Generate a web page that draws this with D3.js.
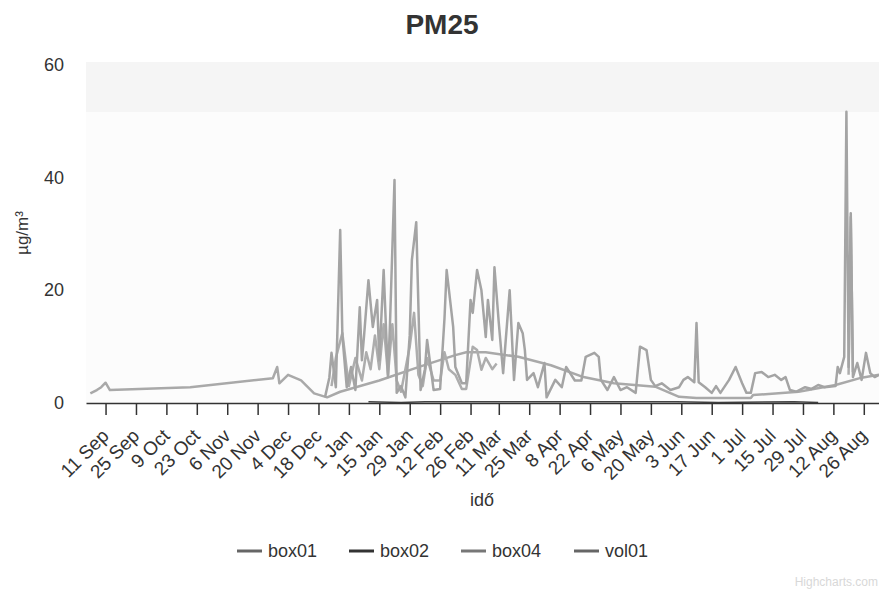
<!doctype html>
<html>
<head>
<meta charset="utf-8">
<title>PM25</title>
<script src="https://d3js.org/d3.v7.min.js"></script>
<style>
  body { margin:0; background:#fff; font-family:"Liberation Sans", Arial, sans-serif; }
</style>
</head>
<body>
<svg id="chart" width="879" height="589"></svg>
<script>
// series names and colours (scan is greyscale)
const seriesNames  = ["box01", "box02", "box04", "vol01"];
const legendColors = ["#666", "#333", "#777", "#666"];
const lineColors   = ["#a9a9a9", "#444", "#a4a4a4", "#adadad"];

// x tick positions as shown on the axis
const tickDays = ["2017-09-11","2017-09-25","2017-10-09","2017-10-23","2017-11-06","2017-11-20",
  "2017-12-04","2017-12-18","2018-01-01","2018-01-15","2018-01-29","2018-02-12","2018-02-26",
  "2018-03-11","2018-03-25","2018-04-08","2018-04-22","2018-05-06","2018-05-20","2018-06-03",
  "2018-06-17","2018-07-01","2018-07-15","2018-07-29","2018-08-12","2018-08-26"];
const yTicks = [0, 20, 40, 60];

// box01 : slow curve over the whole year
const box01 = [
  ["2017-09-04",1.7],["2017-09-07",2.3],["2017-09-09",2.8],["2017-09-11",3.6],["2017-09-13",2.3],
  ["2017-10-20",2.8],["2017-11-27",4.4],["2017-11-29",6.4],["2017-11-30",3.5],["2017-12-04",5.0],
  ["2017-12-10",4.0],["2017-12-16",1.7],["2017-12-22",1.0],["2017-12-28",2.0],["2018-01-15",4.0],
  ["2018-02-03",6.5],["2018-02-19",8.5],["2018-02-24",9.0],["2018-03-05",9.0],["2018-03-20",8.2],
  ["2018-04-04",6.7],["2018-04-19",4.6],["2018-05-03",3.5],["2018-05-22",2.9],["2018-06-02",1.1],
  ["2018-06-10",0.9],["2018-07-05",0.9],["2018-07-06",1.4],["2018-07-27",2.0],["2018-08-13",3.2],
  ["2018-08-25",4.5],["2018-09-02",5.0]
];

// box02 : close to zero
const box02 = [
  ["2018-01-10",0.2],["2018-01-25",0.1],["2018-02-05",0.2],["2018-06-01",0.2],["2018-06-20",0.1],
  ["2018-07-25",0.2],["2018-08-05",0.1]
];

// box04 : daily values
const box04 = [
  ["2017-12-21",1.0],["2017-12-23",4.5],["2017-12-24",8.9],["2017-12-26",2.8],["2017-12-28",30.7],
  ["2017-12-29",12.0],["2017-12-31",2.8],["2018-01-02",6.4],["2018-01-04",2.3],["2018-01-06",17.0],
  ["2018-01-07",7.6],["2018-01-08",12.0],["2018-01-10",21.8],["2018-01-12",13.5],["2018-01-14",18.3],
  ["2018-01-15",7.6],["2018-01-17",23.6],["2018-01-19",4.6],["2018-01-20",15.0],["2018-01-22",39.6],
  ["2018-01-23",1.8],["2018-01-25",3.0],["2018-01-27",1.0],["2018-01-29",12.0],["2018-01-30",25.4],
  ["2018-02-01",32.1],["2018-02-03",2.3],["2018-02-05",6.0],["2018-02-06",11.2],["2018-02-09",2.3],
  ["2018-02-12",2.5],["2018-02-14",15.0],["2018-02-15",23.6],["2018-02-18",13.5],["2018-02-19",6.4],
  ["2018-02-22",3.5],["2018-02-24",3.5],["2018-02-26",18.3],["2018-02-27",16.0],["2018-03-01",23.6],
  ["2018-03-03",20.0],["2018-03-05",11.7],["2018-03-06",18.3],["2018-03-08",11.2],["2018-03-09",24.1],
  ["2018-03-11",14.2],["2018-03-13",5.3],["2018-03-16",20.0],["2018-03-18",4.1],["2018-03-20",14.2],
  ["2018-03-22",12.4],["2018-03-23",9.4],["2018-03-24",4.1],["2018-03-27",5.3],["2018-03-29",2.8],
  ["2018-04-01",7.1],["2018-04-02",1.0],["2018-04-06",4.1],["2018-04-09",2.8],["2018-04-11",6.4],
  ["2018-04-15",4.0],["2018-04-18",4.0],["2018-04-20",8.2],["2018-04-24",8.9],["2018-04-26",8.2],
  ["2018-04-27",4.1],["2018-04-30",2.3],["2018-05-03",4.6],["2018-05-06",2.3],["2018-05-09",2.8],
  ["2018-05-13",1.8],["2018-05-15",10.0],["2018-05-18",9.4],["2018-05-20",4.1],["2018-05-22",3.0],
  ["2018-05-25",3.5],["2018-05-29",2.3],["2018-06-02",2.8],["2018-06-04",4.1],["2018-06-06",4.6],
  ["2018-06-09",3.7],["2018-06-10",14.2],["2018-06-11",3.7],["2018-06-14",2.8],["2018-06-17",1.8],
  ["2018-06-19",3.0],["2018-06-21",1.8],["2018-06-25",4.1],["2018-06-28",6.4],["2018-07-01",3.5],
  ["2018-07-03",1.8],["2018-07-05",1.8],["2018-07-07",5.3],["2018-07-10",5.5],["2018-07-13",4.6],
  ["2018-07-16",5.0],["2018-07-19",4.1],["2018-07-21",4.6],["2018-07-23",2.3],["2018-07-26",2.0],
  ["2018-07-30",2.8],["2018-08-02",2.5],["2018-08-05",3.2],["2018-08-08",2.8],["2018-08-13",3.0],
  ["2018-08-14",6.4],["2018-08-15",5.3],["2018-08-17",8.2],["2018-08-18",51.7],["2018-08-19",6.4],
  ["2018-08-20",33.7],["2018-08-21",4.6],["2018-08-23",7.1],["2018-08-25",4.1],["2018-08-27",8.9],
  ["2018-08-29",5.3],["2018-08-31",4.6],["2018-09-02",5.0]
];

// vol01 : second daily series (null = gap in the record)
const vol01 = [
  ["2017-12-24",3.0],["2017-12-26",8.0],["2017-12-29",12.4],["2017-12-31",6.0],["2018-01-01",3.0],
  ["2018-01-04",8.0],["2018-01-07",4.0],["2018-01-09",9.0],["2018-01-11",6.0],["2018-01-13",12.0],
  ["2018-01-15",6.0],["2018-01-17",14.0],["2018-01-19",5.0],["2018-01-21",14.0],["2018-01-23",4.0],
  ["2018-01-25",2.0],["2018-01-27",6.0],["2018-01-29",10.0],["2018-01-31",16.0],["2018-02-02",5.0],
  ["2018-02-04",3.0],["2018-02-06",8.0],["2018-02-09",4.0],["2018-02-12",4.0],["2018-02-14",9.0],
  ["2018-02-16",6.0],["2018-02-19",5.0],["2018-02-22",2.5],["2018-02-24",2.5],["2018-02-27",10.0],
  ["2018-03-01",9.4],["2018-03-03",5.9],["2018-03-05",8.0],["2018-03-08",6.0],["2018-03-10",7.0],
  ["2018-03-11",null],
  ["2018-08-19",5.0],["2018-08-20",33.0],["2018-08-21",5.5]
];

const allSeries = [box01, box02, box04, vol01];

const parse = d3.timeParse("%Y-%m-%d");
const svg = d3.select("#chart");
const plotLeft = 86, plotRight = 879, plotTop = 65, plotBottom = 403;

const x = d3.scaleTime().domain([parse("2017-09-02"), parse("2018-09-02")]).range([plotLeft, plotRight]);
const y = d3.scaleLinear().domain([0, 60]).range([plotBottom, plotTop]);

// faint plot background (scan tint)
svg.append("rect").attr("x", plotLeft).attr("y", 62).attr("width", plotRight-plotLeft).attr("height", plotBottom-62).attr("fill", "#fcfcfc");
svg.append("rect").attr("x", plotLeft).attr("y", 62).attr("width", plotRight-plotLeft).attr("height", 50).attr("fill", "#f5f5f5");

// title
svg.append("text").attr("x", 442).attr("y", 34).attr("text-anchor", "middle")
  .style("font-size", "28px").style("font-weight", "bold").attr("fill", "#333").text("PM25");

// y axis labels (no line, no grid visible)
svg.append("g").selectAll("text").data(yTicks).join("text")
  .attr("x", 64).attr("y", d => y(d) + 6).attr("text-anchor", "end")
  .style("font-size", "18px").attr("fill", "#333").text(d => d);

svg.append("text").attr("transform", "translate(28,233) rotate(-90)")
  .attr("text-anchor", "middle").style("font-size", "17px").attr("fill", "#333").text("µg/m³");

// lines
svg.append("clipPath").attr("id", "clip").append("rect")
  .attr("x", plotLeft).attr("y", 0).attr("width", plotRight-plotLeft).attr("height", plotBottom + 2);
const line = d3.line().defined(d => d[1] !== null).x(d => x(parse(d[0]))).y(d => y(d[1]));
const drawOrder = [0, 3, 2, 1];
svg.append("g").attr("clip-path", "url(#clip)").selectAll("path").data(drawOrder).join("path")
  .attr("d", i => line(allSeries[i])).attr("fill", "none")
  .attr("stroke", i => lineColors[i]).attr("stroke-width", i => i === 1 ? 1.5 : 2.5)
  .attr("stroke-linejoin", "round");

// x axis
const xAxis = d3.axisBottom(x).tickValues(tickDays.map(parse))
  .tickFormat(d3.timeFormat("%-d %b")).tickSize(12).tickSizeOuter(0);
const gx = svg.append("g").attr("transform", "translate(0," + plotBottom + ")").call(xAxis);
gx.select(".domain").attr("stroke", "#333").attr("stroke-width", 1.5);
gx.selectAll(".tick line").attr("stroke", "#333").attr("stroke-width", 1.5);
gx.selectAll(".tick text").attr("fill", "#333").style("font-size", "19px")
  .style("font-family", "'Liberation Sans', Arial, sans-serif")
  .attr("text-anchor", "end").attr("dy", null).attr("y", 0)
  .attr("transform", "translate(4,34) rotate(-45)");

svg.append("text").attr("x", 482).attr("y", 506).attr("text-anchor", "middle")
  .style("font-size", "18px").attr("fill", "#333").text("idő");

// legend
const legendX = [237, 349, 461, 574];
const lg = svg.append("g").selectAll("g").data(seriesNames).join("g")
  .attr("transform", (d, i) => "translate(" + legendX[i] + ",551)");
lg.append("line").attr("x1", 0).attr("x2", 25).attr("y1", 0).attr("y2", 0)
  .attr("stroke", (d, i) => legendColors[i]).attr("stroke-width", 3);
lg.append("text").attr("x", 31).attr("y", 6).style("font-size", "18px").attr("fill", "#333").text(d => d);

// credits
svg.append("text").attr("x", 878).attr("y", 586).attr("text-anchor", "end")
  .style("font-size", "12px").attr("fill", "#d8d8d8").text("Highcharts.com");
</script>
</body>
</html>
